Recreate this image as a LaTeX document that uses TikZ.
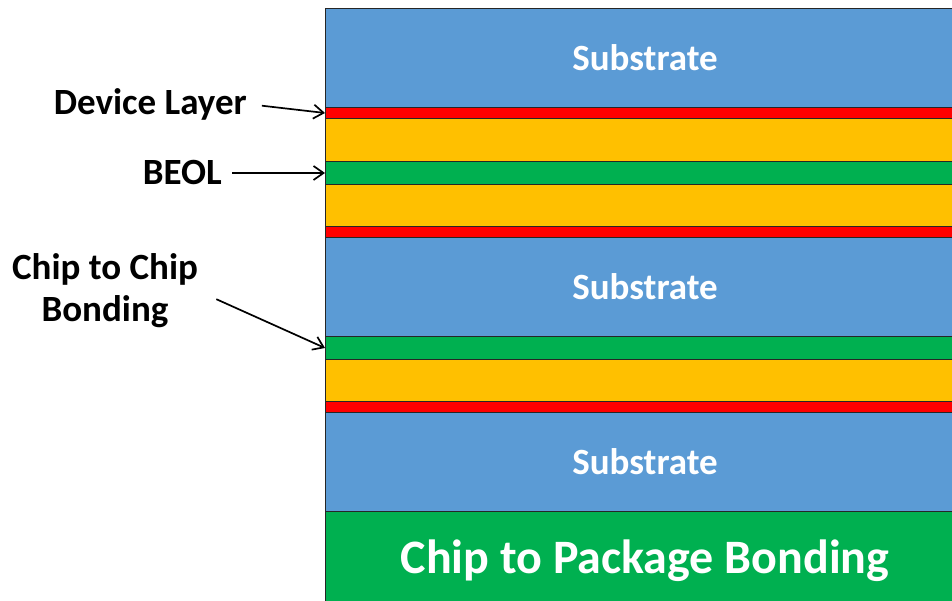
\documentclass[tikz,border=0pt]{standalone}
\usepackage{fontspec}
\setmainfont{Carlito}
\usetikzlibrary{arrows.meta}

\definecolor{subblue}{HTML}{5B9BD5}
\definecolor{devred}{HTML}{FF0000}
\definecolor{beolyellow}{HTML}{FFC000}
\definecolor{bondgreen}{HTML}{00B050}

\begin{document}
\begin{tikzpicture}[x=1pt, y=1pt,
  layer/.style={draw=black!85, line width=1pt, minimum width=639pt, minimum height=#1,
    inner sep=0pt, anchor=north west, text=white, font=\bfseries\fontsize{37}{42}\selectfont},
  lbl/.style={inner sep=0pt, font=\bfseries\fontsize{37}{42}\selectfont},
  arr/.style={-{Straight Barb[length=10pt, width=14pt]}, line width=1.7pt}]
  % Cadre
  \useasboundingbox (0,0) rectangle (952,601);

  % Puce du haut
  \node[layer=99pt, fill=subblue] (sub1) at (325,593) {Substrate};
  \node[layer=11pt, fill=devred] (dev1) at (325,494) {};
  \node[layer=43pt, fill=beolyellow] (beol1) at (325,483) {};
  \node[layer=23pt, fill=bondgreen] (beolm) at (325,440) {};
  \node[layer=42pt, fill=beolyellow] (beol2) at (325,417) {};
  \node[layer=11pt, fill=devred] (dev2) at (325,375) {};

  % Puce du milieu
  \node[layer=99pt, fill=subblue] (sub2) at (325,364) {Substrate};
  \node[layer=23pt, fill=bondgreen] (bond) at (325,265) {};
  \node[layer=42pt, fill=beolyellow] (beol3) at (325,242) {};
  \node[layer=11pt, fill=devred] (dev3) at (325,200) {};

  % Puce du bas et boitier
  \node[layer=99pt, fill=subblue] (sub3) at (325,189) {Substrate};
  \node[layer=90pt, fill=bondgreen, text depth=0pt, font=\bfseries\fontsize{48}{54}\selectfont] (pkg) at (325,90) {Chip to Package Bonding};

  % Legendes
  \node[lbl, anchor=east] (devlbl) at (247,497) {Device Layer};
  \node[lbl, anchor=east] (beollbl) at (222,428) {BEOL};
  \node[lbl, align=center] (c2clbl) at (105,310) {Chip to Chip\\Bonding};

  % Fleches
  \draw[arr, shorten <=15pt] (devlbl.east) -- (dev1.west);
  \draw[arr, shorten <=10pt] (beollbl.east) -- (beolm.west);
  \draw[arr, shorten <=20pt] (c2clbl.east) -- (bond.west);
\end{tikzpicture}
\end{document}
